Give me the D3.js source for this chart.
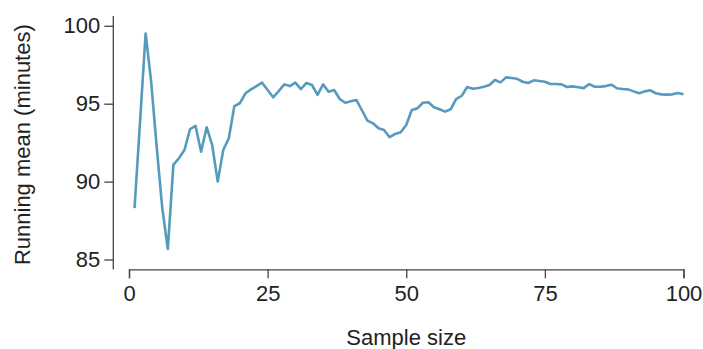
<!DOCTYPE html>
<html>
<head>
<meta charset="utf-8">
<script src="https://cdn.jsdelivr.net/npm/d3@7"></script>
<style>
  html, body { margin: 0; padding: 0; background: #fff; }
  svg { display: block; font-family: "Liberation Sans", Arial, sans-serif; }
</style>
</head>
<body>
<svg id="chart" width="703" height="349"></svg>
<script>
// Running mean of the sample as the sample size grows
const sampleSize = d3.range(1, 101);
const runningMean = [
  88.30, 93.90, 99.51, 96.40, 92.20, 88.30, 85.67, 91.07, 91.50, 92.03,
  93.36, 93.57, 91.92, 93.49, 92.35, 90.00, 92.03, 92.78, 94.85, 95.03,
  95.67, 95.92, 96.13, 96.35, 95.88, 95.41, 95.81, 96.24, 96.13, 96.35,
  95.94, 96.33, 96.20, 95.56, 96.24, 95.77, 95.88, 95.30, 95.06, 95.15,
  95.24, 94.58, 93.91, 93.74, 93.42, 93.31, 92.85, 93.06, 93.17, 93.63,
  94.60, 94.70, 95.06, 95.09, 94.77, 94.64, 94.49, 94.64, 95.30, 95.51,
  96.07, 95.96, 96.01, 96.09, 96.20, 96.52, 96.37, 96.69, 96.65, 96.60,
  96.41, 96.33, 96.50, 96.46, 96.41, 96.26, 96.26, 96.24, 96.07, 96.11,
  96.06, 96.00, 96.26, 96.09, 96.09, 96.13, 96.22, 95.99, 95.94, 95.92,
  95.79, 95.67, 95.79, 95.86, 95.67, 95.60, 95.58, 95.60, 95.69, 95.60
];
const xTicks = [0, 25, 50, 75, 100];
const yTicks = [85, 90, 95, 100];

const svg = d3.select("#chart");
const x = d3.scaleLinear().domain([0, 100]).range([129, 683.5]);
const y = d3.scaleLinear().domain([85, 100]).range([259.5, 25.8]);

const axisColor = "#444";
const textColor = "#222";
const fontSize = 22;

// Y axis: line spans the full plotting region
const yAxisX = 113.3;
const yG = svg.append("g").attr("transform", `translate(${yAxisX},0)`)
  .call(d3.axisLeft(y).tickValues(yTicks).tickSize(9).tickSizeOuter(0).tickPadding(4));
yG.select(".domain").remove();
yG.append("line").attr("x1", 0).attr("x2", 0).attr("y1", 16).attr("y2", 269.5)
  .attr("stroke", axisColor).attr("stroke-width", 1.3);
yG.selectAll(".tick line").attr("stroke", axisColor).attr("stroke-width", 1.3);
yG.selectAll(".tick text").attr("fill", textColor)
  .style("font-size", fontSize + "px").style("font-family", "Liberation Sans, Arial, sans-serif");

// X axis
const xAxisY = 269.3;
const xG = svg.append("g").attr("transform", `translate(0,${xAxisY})`)
  .call(d3.axisBottom(x).tickValues(xTicks).tickSize(9).tickSizeOuter(9).tickPadding(7));
xG.select(".domain").attr("stroke", axisColor).attr("stroke-width", 1.3);
xG.selectAll(".tick line").attr("stroke", axisColor).attr("stroke-width", 1.3);
xG.selectAll(".tick text").attr("fill", textColor)
  .style("font-size", fontSize + "px").style("font-family", "Liberation Sans, Arial, sans-serif");

// Axis titles
svg.append("text")
  .attr("x", (x(0) + x(100)) / 2).attr("y", 345)
  .attr("text-anchor", "middle").attr("fill", textColor)
  .style("font-size", fontSize + "px")
  .text("Sample size");

svg.append("text")
  .attr("transform", `translate(30,${y(92.5) + 2}) rotate(-90)`)
  .attr("text-anchor", "middle").attr("fill", textColor)
  .style("font-size", fontSize + "px")
  .text("Running mean (minutes)");

// Running mean line
const line = d3.line()
  .x((d, i) => x(sampleSize[i]))
  .y(d => y(d));

svg.append("path")
  .datum(runningMean)
  .attr("fill", "none")
  .attr("stroke", "#569BBD")
  .attr("stroke-width", 2.6)
  .attr("stroke-linejoin", "round")
  .attr("d", line);
</script>
</body>
</html>
